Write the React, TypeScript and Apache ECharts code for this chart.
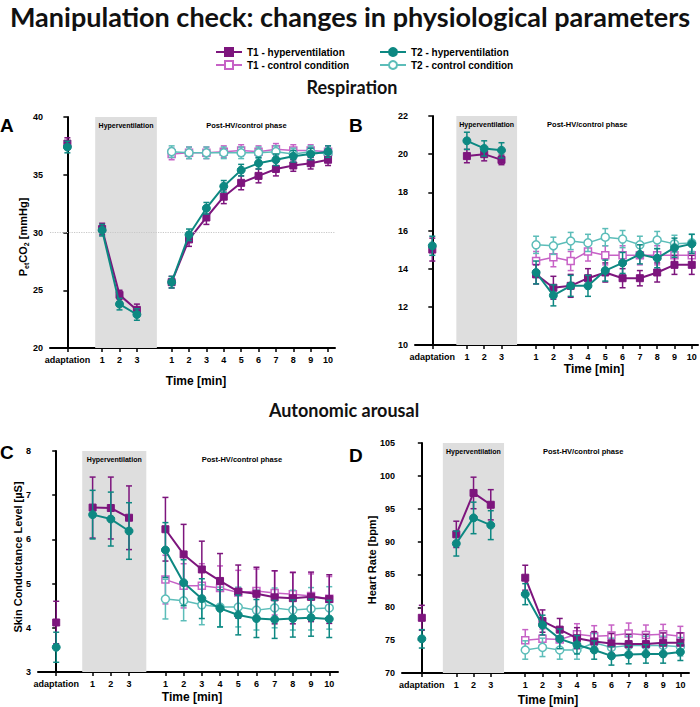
import React, { useEffect, useRef } from "react";
import * as echarts from "echarts";

// x positions (value axis) and their tick labels: adaptation, HV 1-3, post 1-10
const tickPositions = [0, 2, 3, 4, 6, 7, 8, 9, 10, 11, 12, 13, 14, 15];
const tickLabels = ["adaptation", "1", "2", "3", "1", "2", "3", "4", "5", "6", "7", "8", "9", "10"];

const seriesNames = [
  "T1 - hyperventilation",
  "T1 - control condition",
  "T2 - hyperventilation",
  "T2 - control condition",
];

// Panel A: PetCO2 [mmHg]; HV series: adaptation, HV1-3, post1-10; control: post1-10
const petco2T1HvMean = [37.7, 30.3, 24.6, 23.3, 25.7, 29.4, 31.3, 33.1, 34.3, 34.9, 35.5, 35.8, 36.0, 36.3];
const petco2T1HvSem = [0.5, 0.5, 0.4, 0.5, 0.5, 0.6, 0.6, 0.6, 0.6, 0.6, 0.6, 0.5, 0.5, 0.5];
const petco2T2HvMean = [37.4, 30.2, 23.8, 22.9, 25.7, 29.8, 32.1, 34.0, 35.4, 36.0, 36.3, 36.6, 36.8, 37.0];
const petco2T2HvSem = [0.5, 0.5, 0.5, 0.5, 0.5, 0.5, 0.5, 0.5, 0.5, 0.5, 0.5, 0.5, 0.5, 0.5];
const petco2T1CtrlMean = [36.8, 36.9, 36.9, 37.0, 37.1, 37.0, 37.2, 37.1, 37.1, 37.0];
const petco2T1CtrlSem = [0.5, 0.5, 0.5, 0.5, 0.5, 0.5, 0.5, 0.5, 0.5, 0.5];
const petco2T2CtrlMean = [37.0, 36.9, 36.9, 36.9, 36.9, 36.9, 37.0, 36.8, 37.0, 36.8];
const petco2T2CtrlSem = [0.5, 0.5, 0.5, 0.5, 0.5, 0.5, 0.5, 0.5, 0.5, 0.5];

// Panel B: respiration rate
const respT1HvMean = [15.0, 19.9, 20.0, 19.7, 13.7, 13.0, 13.1, 13.5, 13.8, 13.5, 13.5, 13.8, 14.2, 14.2];
const respT1HvSem = [0.6, 0.35, 0.35, 0.25, 0.5, 0.6, 0.6, 0.5, 0.5, 0.5, 0.4, 0.5, 0.5, 0.5];
const respT2HvMean = [15.2, 20.7, 20.3, 20.2, 13.8, 12.6, 13.1, 13.1, 13.9, 14.3, 14.75, 14.55, 15.1, 15.3];
const respT2HvSem = [0.5, 0.45, 0.4, 0.4, 0.6, 0.55, 0.55, 0.55, 0.55, 0.55, 0.5, 0.5, 0.5, 0.5];
const respT1CtrlMean = [14.4, 14.6, 14.4, 14.9, 14.7, 14.7, 14.7, 14.7, 14.7, 14.7];
const respT1CtrlSem = [0.5, 0.5, 0.5, 0.5, 0.5, 0.5, 0.5, 0.5, 0.5, 0.5];
const respT2CtrlMean = [15.25, 15.2, 15.45, 15.35, 15.65, 15.55, 15.25, 15.5, 15.3, 15.35];
const respT2CtrlSem = [0.45, 0.45, 0.45, 0.45, 0.45, 0.45, 0.45, 0.45, 0.45, 0.45];

// Panel C: skin conductance level [µS]
const sclT1HvMean = [4.12, 6.72, 6.71, 6.49, 6.23, 5.66, 5.32, 5.06, 4.82, 4.77, 4.69, 4.67, 4.7, 4.65];
const sclT1HvSem = [0.48, 0.69, 0.7, 0.72, 0.72, 0.68, 0.64, 0.62, 0.6, 0.6, 0.6, 0.58, 0.56, 0.55];
const sclT2HvMean = [3.56, 6.56, 6.46, 6.19, 5.76, 5.02, 4.66, 4.44, 4.29, 4.21, 4.19, 4.21, 4.23, 4.2];
const sclT2HvSem = [0.34, 0.55, 0.61, 0.64, 0.62, 0.52, 0.45, 0.42, 0.45, 0.43, 0.43, 0.42, 0.42, 0.42];
const sclT1CtrlMean = [5.09, 4.95, 4.95, 4.9, 4.8, 4.83, 4.79, 4.76, 4.72, 4.66];
const sclT1CtrlSem = [0.55, 0.5, 0.5, 0.5, 0.5, 0.5, 0.5, 0.5, 0.5, 0.5];
const sclT2CtrlMean = [4.65, 4.61, 4.52, 4.47, 4.47, 4.4, 4.45, 4.4, 4.43, 4.45];
const sclT2CtrlSem = [0.45, 0.45, 0.45, 0.45, 0.45, 0.45, 0.45, 0.45, 0.48, 0.48];

// Panel D: heart rate [bpm]
const hrT1HvMean = [78.4, 91.1, 97.4, 95.6, 84.5, 77.9, 76.6, 75.3, 74.8, 74.5, 74.4, 74.4, 74.6, 74.6];
const hrT1HvSem = [1.9, 2.0, 2.4, 2.3, 1.9, 1.7, 1.7, 1.6, 1.5, 1.5, 1.5, 1.5, 1.5, 1.5];
const hrT2HvMean = [75.2, 89.7, 93.6, 92.5, 82.0, 77.3, 75.2, 74.3, 73.5, 72.6, 72.8, 72.9, 72.9, 73.2];
const hrT2HvSem = [1.4, 1.9, 2.4, 2.2, 1.6, 1.5, 1.5, 1.4, 1.4, 1.4, 1.4, 1.4, 1.4, 1.3];
const hrT1CtrlMean = [75.0, 75.2, 75.1, 75.9, 75.6, 75.7, 76.0, 75.8, 75.9, 75.6];
const hrT1CtrlSem = [1.6, 1.5, 1.5, 1.6, 1.6, 1.6, 1.6, 1.5, 1.5, 1.5];
const hrT2CtrlMean = [73.5, 73.9, 73.5, 73.5, 74.6, 73.9, 74.2, 74.2, 74.2, 74.0];
const hrT2CtrlSem = [1.4, 1.4, 1.4, 1.4, 1.4, 1.4, 1.4, 1.4, 1.4, 1.4];

const COLORS = {
  t1Hv: "#7d157d",
  t1Ctrl: "#c762c6",
  t2Hv: "#0d8882",
  t2Ctrl: "#5cbdb9",
};

const panels = [
  {
    letter: "A",
    grid: { left: 50, top: 117, width: 285, height: 231 },
    x: [-1, 15.4],
    y: [20, 40, 5],
    band: [1.6, 5.15],
    postMid: 10.3,
    refLine: 30,
    time: [196, 381],
    data: [
      [petco2T1HvMean, petco2T1HvSem],
      [petco2T1CtrlMean, petco2T1CtrlSem],
      [petco2T2HvMean, petco2T2HvSem],
      [petco2T2CtrlMean, petco2T2CtrlSem],
    ],
  },
  {
    letter: "B",
    grid: { left: 415, top: 116, width: 283, height: 229 },
    x: [-1, 15.36],
    y: [10, 22, 2],
    band: [1.39, 4.9],
    postMid: 8.96,
    refLine: null,
    time: [594, 369],
    data: [
      [respT1HvMean, respT1HvSem],
      [respT1CtrlMean, respT1CtrlSem],
      [respT2HvMean, respT2HvSem],
      [respT2CtrlMean, respT2CtrlSem],
    ],
  },
  {
    letter: "C",
    grid: { left: 38, top: 451, width: 300, height: 221 },
    x: [-1, 15.48],
    y: [3, 8, 1],
    band: [1.43, 4.95],
    postMid: 10.2,
    refLine: null,
    time: [192, 697],
    data: [
      [sclT1HvMean, sclT1HvSem],
      [sclT1CtrlMean, sclT1CtrlSem],
      [sclT2HvMean, sclT2HvSem],
      [sclT2CtrlMean, sclT2CtrlSem],
    ],
  },
  {
    letter: "D",
    grid: { left: 402, top: 443, width: 287, height: 230 },
    x: [-1.15, 15.5],
    y: [70, 105, 5],
    band: [1.22, 4.77],
    postMid: 9.36,
    refLine: null,
    time: [548, 700],
    data: [
      [hrT1HvMean, hrT1HvSem],
      [hrT1CtrlMean, hrT1CtrlSem],
      [hrT2HvMean, hrT2HvSem],
      [hrT2CtrlMean, hrT2CtrlSem],
    ],
  },
];

const styles = [
  { color: COLORS.t1Hv, symbol: "rect", size: 7, lw: 2, empty: false },
  { color: COLORS.t1Ctrl, symbol: "rect", size: 7, lw: 1.5, empty: true },
  { color: COLORS.t2Hv, symbol: "circle", size: 8, lw: 2, empty: false },
  { color: COLORS.t2Ctrl, symbol: "circle", size: 8, lw: 1.5, empty: true },
];

const FONT = "Liberation Sans, Arial, sans-serif";
const TITLE_FONT = "Lato, Open Sans, sans-serif";

function xsFor(len: number): number[] {
  return len === tickPositions.length ? tickPositions : tickPositions.slice(4);
}

function lineData(mean: number[]) {
  const xs = xsFor(mean.length);
  const out: any[] = [];
  mean.forEach((v, i) => {
    out.push([xs[i], v]);
    if (mean.length === tickPositions.length && (i === 0 || i === 3)) out.push([xs[i] + 1, "-"]);
  });
  return out;
}

function errData(mean: number[], sem: number[]) {
  const xs = xsFor(mean.length);
  return mean.map((v, i) => [xs[i], v - sem[i], v + sem[i]]);
}

function makeErrRender(color: string, lw: number) {
  return (params: any, api: any) => {
    const x = api.value(0);
    const lo = api.coord([x, api.value(1)]);
    const hi = api.coord([x, api.value(2)]);
    const cap = 3;
    const style = { stroke: color, lineWidth: lw };
    return {
      type: "group",
      children: [
        { type: "line", shape: { x1: lo[0], y1: lo[1], x2: hi[0], y2: hi[1] }, style },
        { type: "line", shape: { x1: lo[0] - cap, y1: lo[1], x2: lo[0] + cap, y2: lo[1] }, style },
        { type: "line", shape: { x1: hi[0] - cap, y1: hi[1], x2: hi[0] + cap, y2: hi[1] }, style },
      ],
    };
  };
}

function buildOption() {
  const grid: any[] = [];
  const xAxis: any[] = [];
  const yAxis: any[] = [];
  const series: any[] = [];

  panels.forEach((p, gi) => {
    grid.push({ ...p.grid, containLabel: false });
    xAxis.push({
      type: "value",
      gridIndex: gi,
      min: p.x[0],
      max: p.x[1],
      axisLine: { show: true, lineStyle: { color: "#000", width: 2 } },
      axisTick: { show: true, customValues: tickPositions, length: 4, lineStyle: { color: "#000", width: 1.5 } },
      axisLabel: {
        show: true,
        customValues: tickPositions,
        margin: 7,
        fontSize: 9,
        fontWeight: "bold",
        fontFamily: FONT,
        color: "#000",
        formatter: (v: number) => {
          const idx = tickPositions.indexOf(Math.round(v));
          return idx >= 0 ? tickLabels[idx] : "";
        },
      },
      splitLine: { show: false },
    });
    yAxis.push({
      type: "value",
      gridIndex: gi,
      min: p.y[0],
      max: p.y[1],
      interval: p.y[2],
      axisLine: { show: true, lineStyle: { color: "#000", width: 2 } },
      axisTick: { show: true, length: 4, lineStyle: { color: "#000", width: 1.5 } },
      axisLabel: { margin: 7, fontSize: 9, fontWeight: "bold", fontFamily: FONT, color: "#000" },
      splitLine: { show: false },
    });

    const order = [1, 3, 0, 2];
    order.forEach((si, k) => {
      const [mean, sem] = p.data[si];
      const st = styles[si];
      series.push({
        type: "custom",
        name: `err-${p.letter}-${si}`,
        xAxisIndex: gi,
        yAxisIndex: gi,
        renderItem: makeErrRender(st.color, 1.5),
        data: errData(mean, sem),
        encode: { x: 0, y: [1, 2] },
        z: 2 + k,
      });
      const lineSeries: any = {
        type: "line",
        name: seriesNames[si],
        xAxisIndex: gi,
        yAxisIndex: gi,
        data: lineData(mean),
        connectNulls: false,
        symbol: st.symbol,
        symbolSize: st.size,
        showAllSymbol: true,
        lineStyle: { color: st.color, width: st.lw },
        itemStyle: st.empty
          ? { color: "#ffffff", borderColor: st.color, borderWidth: 1.5 }
          : { color: st.color, borderColor: st.color, borderWidth: 1 },
        z: 2 + k,
        emphasis: { disabled: true },
      };
      if (k === 0) {
        lineSeries.markArea = {
          silent: true,
          data: [
            [
              {
                xAxis: p.band[0],
                itemStyle: { color: "#dedede" },
                label: {
                  show: true,
                  position: "insideTop",
                  distance: 5,
                  formatter: "Hyperventilation",
                  fontSize: 7,
                  fontWeight: "bold",
                  fontFamily: FONT,
                  color: "#000",
                },
              },
              { xAxis: p.band[1] },
            ],
            [
              {
                xAxis: p.postMid - 3,
                itemStyle: { color: "rgba(0,0,0,0)" },
                label: {
                  show: true,
                  position: "insideTop",
                  distance: 4,
                  formatter: "Post-HV/control phase",
                  fontSize: 7.5,
                  fontWeight: "bold",
                  fontFamily: FONT,
                  color: "#000",
                },
              },
              { xAxis: p.postMid + 3 },
            ],
          ],
        };
        if (p.refLine !== null) {
          lineSeries.markLine = {
            silent: true,
            symbol: "none",
            label: { show: false },
            lineStyle: { color: "#c8c8c8", type: "dotted", width: 1.2 },
            data: [{ yAxis: p.refLine }],
          };
        }
      }
      series.push(lineSeries);
    });
  });

  const graphic: any[] = [
    {
      type: "text",
      x: 350,
      y: 16,
      style: {
        text: "Manipulation check: changes in physiological parameters",
        font: `bold 27px ${TITLE_FONT}`,
        fill: "#111",
        align: "center",
        verticalAlign: "middle",
      },
    },
    {
      type: "text",
      x: 352,
      y: 87,
      style: { text: "Respiration", font: `bold 18px ${TITLE_FONT}`, fill: "#111", align: "center", verticalAlign: "middle" },
    },
    {
      type: "text",
      x: 344,
      y: 410,
      style: { text: "Autonomic arousal", font: `bold 18px ${TITLE_FONT}`, fill: "#111", align: "center", verticalAlign: "middle" },
    },
  ];

  const letterPos = [
    [0, 125],
    [349, 125],
    [0, 452],
    [349, 455],
  ];
  panels.forEach((p, i) => {
    graphic.push({
      type: "text",
      x: letterPos[i][0],
      y: letterPos[i][1],
      style: { text: p.letter, font: `bold 19px ${FONT}`, fill: "#000", align: "left", verticalAlign: "middle" },
    });
    graphic.push({
      type: "text",
      x: p.time[0],
      y: p.time[1],
      style: { text: "Time [min]", font: `bold 12px ${FONT}`, fill: "#000", align: "center", verticalAlign: "middle" },
    });
  });

  graphic.push({
    type: "text",
    x: 23,
    y: 237,
    rotation: Math.PI / 2,
    style: {
      text: "{a|P}{b|et}{a|CO}{b|2}{a| [mmHg]}",
      align: "center",
      verticalAlign: "middle",
      rich: {
        a: { fontSize: 11, fontWeight: "bold", fontFamily: FONT, fill: "#000", color: "#000", lineHeight: 14 },
        b: { fontSize: 7, fontWeight: "bold", fontFamily: FONT, fill: "#000", color: "#000", lineHeight: 14, verticalAlign: "bottom", padding: [5, 0, 0, 0] },
      },
    },
  });
  graphic.push({
    type: "text",
    x: 18,
    y: 557,
    rotation: Math.PI / 2,
    style: { text: "Skin Conductance Level [µS]", font: `bold 11px ${FONT}`, fill: "#000", align: "center", verticalAlign: "middle" },
  });
  graphic.push({
    type: "text",
    x: 372,
    y: 560,
    rotation: Math.PI / 2,
    style: { text: "Heart Rate [bpm]", font: `bold 11px ${FONT}`, fill: "#000", align: "center", verticalAlign: "middle" },
  });

  const legendCommon = {
    orient: "vertical",
    itemGap: 3,
    itemWidth: 26,
    itemHeight: 10,
    textStyle: { fontSize: 10, fontWeight: "bold", fontFamily: FONT, color: "#000" },
    selectedMode: false,
  };

  return {
    animation: false,
    backgroundColor: "#ffffff",
    grid,
    xAxis,
    yAxis,
    series,
    graphic,
    legend: [
      { ...legendCommon, left: 210, top: 42, data: [seriesNames[0], seriesNames[1]] },
      { ...legendCommon, left: 374, top: 42, data: [seriesNames[2], seriesNames[3]] },
    ],
  };
}

export default function App() {
  const ref = useRef<HTMLDivElement>(null);
  useEffect(() => {
    if (!ref.current) return;
    const chart = echarts.init(ref.current, null, { renderer: "svg" });
    chart.setOption(buildOption() as any);
    return () => chart.dispose();
  }, []);
  return <div ref={ref} style={{ position: "fixed", left: 0, top: 0, width: 700, height: 707 }} />;
}
